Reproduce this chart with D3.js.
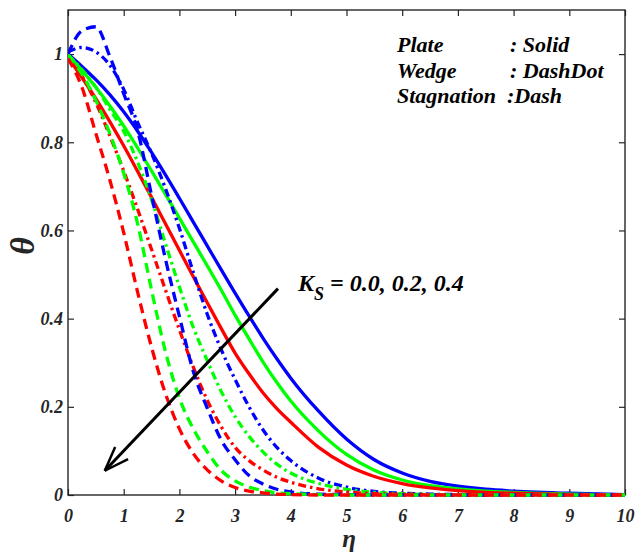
<!DOCTYPE html>
<html><head><meta charset="utf-8">
<script src="https://cdn.jsdelivr.net/npm/d3@7"></script>
<style>
body{margin:0;background:#fff}
svg text{font-family:"Liberation Serif","Times New Roman",serif;font-weight:bold;font-style:italic}
</style>
</head><body><svg id="c" width="638" height="553"></svg>
<script>
// ---- data ----
const eta = [0,0.25,0.5,0.75,1,1.25,1.5,1.75,2,2.25,2.5,2.75,3,3.25,3.5,3.75,4,4.5,5,5.5,6,6.5,7,7.5,8,9,10];
// Plate (solid)
const plateK00 = [1.0,0.972,0.942,0.908,0.869,0.825,0.777,0.726,0.673,0.619,0.565,0.511,0.458,0.406,0.356,0.309,0.265,0.19,0.127,0.08,0.05,0.031,0.02,0.013,0.009,0.004,0.001];
const plateK02 = [0.998,0.963,0.925,0.883,0.837,0.787,0.735,0.682,0.628,0.574,0.52,0.465,0.408,0.354,0.302,0.255,0.213,0.145,0.092,0.056,0.034,0.021,0.014,0.009,0.006,0.002,0.0];
const plateK04 = [0.992,0.947,0.899,0.847,0.792,0.734,0.675,0.615,0.555,0.495,0.436,0.378,0.322,0.275,0.232,0.196,0.165,0.108,0.068,0.042,0.026,0.016,0.01,0.006,0.004,0.001,0.0];
// Wedge (dash-dot)
const wedgeK00 = [1.005,1.015,1.005,0.975,0.92,0.845,0.775,0.695,0.605,0.505,0.41,0.33,0.262,0.2,0.148,0.108,0.078,0.038,0.018,0.008,0.004,0.002,0.001,0,0,0,0];
const wedgeK02 = [0.998,0.965,0.925,0.875,0.825,0.755,0.67,0.57,0.472,0.38,0.305,0.235,0.178,0.133,0.098,0.07,0.05,0.026,0.013,0.006,0.003,0.001,0,0,0,0,0];
const wedgeK04 = [0.99,0.95,0.89,0.815,0.735,0.648,0.557,0.465,0.375,0.29,0.215,0.155,0.108,0.078,0.057,0.04,0.029,0.014,0.007,0.003,0.002,0.001,0,0,0,0,0];
// Stagnation (dash)
const stagK00 = [1.0,1.053,1.062,0.995,0.91,0.826,0.68,0.535,0.405,0.28,0.197,0.125,0.08,0.044,0.025,0.013,0.007,0.002,0.001,0,0,0,0,0,0,0,0];
const stagK02 = [0.998,0.955,0.895,0.82,0.73,0.615,0.465,0.325,0.22,0.15,0.098,0.056,0.032,0.018,0.01,0.005,0.003,0.001,0,0,0,0,0,0,0,0,0];
const stagK04 = [0.99,0.925,0.82,0.715,0.595,0.46,0.335,0.23,0.15,0.094,0.057,0.032,0.017,0.009,0.005,0.002,0.001,0,0,0,0,0,0,0,0,0,0];

const xTicks = [0,1,2,3,4,5,6,7,8,9,10];
const xTickLabels = ["0","1","2","3","4","5","6","7","8","9","10"];
const yTicks = [0,0.2,0.4,0.6,0.8,1];
const yTickLabels = ["0","0.2","0.4","0.6","0.8","1"];
const legendNames = ["Plate","Wedge","Stagnation"];
const legendStyles = [": Solid",": DashDot",":Dash"];
const arrowFrom = [3.77, 0.468];
const arrowTo = [0.66, 0.055];

// ---- build ----
const colors = {K00:"#0000ff",K02:"#00ff00",K04:"#ff0000"};
const dashes = {solid:null, dashdot:"8,4,2.5,4", dash:"10,6"};
const series = [
  {v:plateK00,c:colors.K00,s:"solid"},{v:plateK02,c:colors.K02,s:"solid"},{v:plateK04,c:colors.K04,s:"solid"},
  {v:wedgeK00,c:colors.K00,s:"dashdot"},{v:wedgeK02,c:colors.K02,s:"dashdot"},{v:wedgeK04,c:colors.K04,s:"dashdot"},
  {v:stagK00,c:colors.K00,s:"dash"},{v:stagK02,c:colors.K02,s:"dash"},{v:stagK04,c:colors.K04,s:"dash"}
];

const svg = d3.select("#c");
const L=68,R=625,T=10,B=495;
const x = d3.scaleLinear().domain([0,10]).range([L,R]);
const y = d3.scaleLinear().domain([0,1.1]).range([B,T]);
const axCol = "#262626";

svg.append("rect").attr("width",638).attr("height",553).attr("fill","#fff");

// axes
const gx = svg.append("g").attr("transform",`translate(0,${B})`)
  .call(d3.axisBottom(x).tickValues(xTicks).tickFormat((d,i)=>xTickLabels[i]).tickSize(-6).tickPadding(14).tickSizeOuter(0));
const gy = svg.append("g").attr("transform",`translate(${L},0)`)
  .call(d3.axisLeft(y).tickValues(yTicks).tickFormat((d,i)=>yTickLabels[i]).tickSize(-6).tickPadding(5).tickSizeOuter(0));
const gt = svg.append("g").attr("transform",`translate(0,${T})`)
  .call(d3.axisTop(x).tickValues(xTicks).tickFormat("").tickSize(-6).tickSizeOuter(0));
const gr = svg.append("g").attr("transform",`translate(${R},0)`)
  .call(d3.axisRight(y).tickValues(yTicks).tickFormat("").tickSize(-6).tickSizeOuter(0));
[gx,gy,gt,gr].forEach(g=>{
  g.select(".domain").remove();
  g.selectAll(".tick line").attr("stroke",axCol).attr("stroke-width",1.2);
  g.selectAll(".tick text").attr("fill",axCol).style("font-size","18px")
   .style("font-family",'"Liberation Serif","Times New Roman",serif');
});
svg.append("rect").attr("x",L).attr("y",T).attr("width",R-L).attr("height",B-T)
  .attr("fill","none").attr("stroke",axCol).attr("stroke-width",1.4);

// clip
svg.append("clipPath").attr("id","clip").append("rect")
  .attr("x",L).attr("y",T-2).attr("width",R-L).attr("height",B-T+4);

const line = d3.line().x((d,i)=>x(eta[i])).y(d=>y(d)).curve(d3.curveMonotoneX);
const gl = svg.append("g").attr("clip-path","url(#clip)");
series.forEach(s=>{
  gl.append("path").attr("d",line(s.v)).attr("fill","none")
    .attr("stroke",s.c).attr("stroke-width",3.3)
    .attr("stroke-dasharray",dashes[s.s]);
});

// axis labels
svg.append("text").attr("x",349).attr("y",547).attr("text-anchor","middle")
  .style("font-size","25px").attr("fill",axCol).text("η");
svg.append("text").attr("transform","translate(34,246) rotate(-90)").attr("text-anchor","middle")
  .style("font-size","34px").attr("fill",axCol).text("θ");

// legend text
const ly=[52,78,103];
legendNames.forEach((n,i)=>{
  svg.append("text").attr("x",397).attr("y",ly[i]).style("font-size","22px").attr("fill","#000").text(n);
  svg.append("text").attr("x",i<2?510:507).attr("y",ly[i]).style("font-size","22px").attr("fill","#000").text(legendStyles[i]);
});

// K_S annotation
const kt = svg.append("text").attr("x",298).attr("y",291).style("font-size","24px").attr("fill","#000");
kt.append("tspan").text("K");
kt.append("tspan").attr("dy",9).style("font-size","18px").text("S");
kt.append("tspan").attr("dy",-9).text(" = 0.0, 0.2, 0.4");

// arrow
const x1=x(arrowFrom[0]), y1=y(arrowFrom[1]), x2=x(arrowTo[0]), y2=y(arrowTo[1]);
svg.append("line").attr("x1",x1).attr("y1",y1).attr("x2",x2).attr("y2",y2)
  .attr("stroke","#000").attr("stroke-width",3);
const ang = Math.atan2(y1-y2,x1-x2), hl=26, spread=20*Math.PI/180;
[ang-spread, ang+spread].forEach(a=>{
  svg.append("line").attr("x1",x2).attr("y1",y2)
    .attr("x2",x2+hl*Math.cos(a)).attr("y2",y2+hl*Math.sin(a))
    .attr("stroke","#000").attr("stroke-width",2.5);
});
</script></body></html>
